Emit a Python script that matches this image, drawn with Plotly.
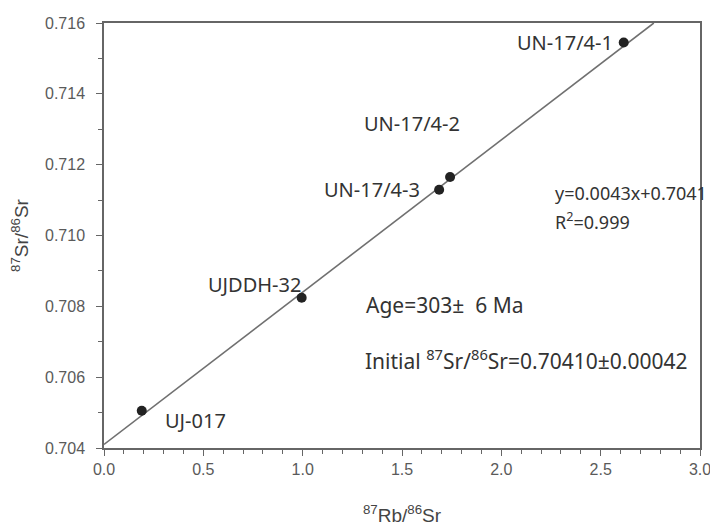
import plotly.graph_objects as go

# Data
samples = ["UN-17/4-1", "UN-17/4-2", "UN-17/4-3", "UJDDH-32", "UJ-017"]
rb_sr = [2.616, 1.742, 1.687, 0.995, 0.190]
sr_sr = [0.71545, 0.71165, 0.71129, 0.70824, 0.70505]

slope = 0.0043
intercept = 0.7041

x_range = [0.0, 3.0]
y_range = [0.704, 0.716]
x_ticks = [0.0, 0.5, 1.0, 1.5, 2.0, 2.5, 3.0]
x_ticklabels = ["0.0", "0.5", "1.0", "1.5", "2.0", "2.5", "3.0"]
y_ticks = [0.704, 0.706, 0.708, 0.710, 0.712, 0.714, 0.716]
y_ticklabels = ["0.704", "0.706", "0.708", "0.710", "0.712", "0.714", "0.716"]

# Label placements: (text, x, y, xanchor, size)
labels = [
    ("UN-17/4-1", 2.57, 0.71545, "right", 20),
    ("UN-17/4-2", 1.55, 0.71315, "center", 20),
    ("UN-17/4-3", 1.60, 0.71129, "right", 20),
    ("UJDDH-32", 0.76, 0.70862, "center", 20),
    ("UJ-017", 0.295, 0.70478, "left", 20),
    ("y=0.0043x+0.7041", 2.26, 0.71120, "left", 18),
    ("R<sup>2</sup>=0.999", 2.26, 0.71040, "left", 18),
    ("Age=303±  6 Ma", 1.31, 0.70805, "left", 21),
    ("Initial <sup>87</sup>Sr/<sup>86</sup>Sr=0.70410±0.00042", 1.305, 0.70650, "left", 21),
]

fig = go.Figure()

# Regression line across plot
x_end = (y_range[1] - intercept) / slope
line_x = [x_range[0], x_end]
line_y = [intercept + slope * v for v in line_x]
fig.add_trace(go.Scatter(x=line_x, y=line_y, mode="lines",
                         line=dict(color="#707070", width=1.6),
                         hoverinfo="skip", showlegend=False))

fig.add_trace(go.Scatter(x=rb_sr, y=sr_sr, mode="markers", text=samples,
                         marker=dict(color="#222222", size=10),
                         showlegend=False))

for text, x, y, xa, sz in labels:
    fig.add_annotation(x=x, y=y, text=text, xanchor=xa, yanchor="middle",
                       showarrow=False,
                       font=dict(family="Noto Sans", size=sz, color="#333333"))

axis_common = dict(showline=True, linecolor="#666666", linewidth=1.5, mirror=True,
                   showgrid=False, zeroline=False, ticks="outside", ticklen=6,
                   tickcolor="#666666", tickwidth=1.2,
                   tickfont=dict(family="Liberation Sans", size=16, color="#5a5a5a"))

fig.update_xaxes(range=x_range, tickvals=x_ticks, ticktext=x_ticklabels,
                 minor=dict(dtick=0.1, ticks="outside", ticklen=4, tickcolor="#666666", tickwidth=1),
                 title=dict(text="<sup>87</sup>Rb/<sup>86</sup>Sr", standoff=32,
                            font=dict(family="Liberation Sans", size=19, color="#444444")),
                 **axis_common)
fig.update_yaxes(range=y_range, tickvals=y_ticks, ticktext=y_ticklabels,
                 ticklabelstandoff=8,
                 minor=dict(dtick=0.001, ticks="outside", ticklen=4, tickcolor="#666666", tickwidth=1),
                 title=dict(text="<sup>87</sup>Sr/<sup>86</sup>Sr", standoff=12,
                            font=dict(family="Liberation Sans", size=19, color="#444444")),
                 **axis_common)

fig.update_layout(width=710, height=522, margin=dict(l=96, r=12, t=7, b=82),
                  plot_bgcolor="white", paper_bgcolor="white")

fig.write_html("out.html")
